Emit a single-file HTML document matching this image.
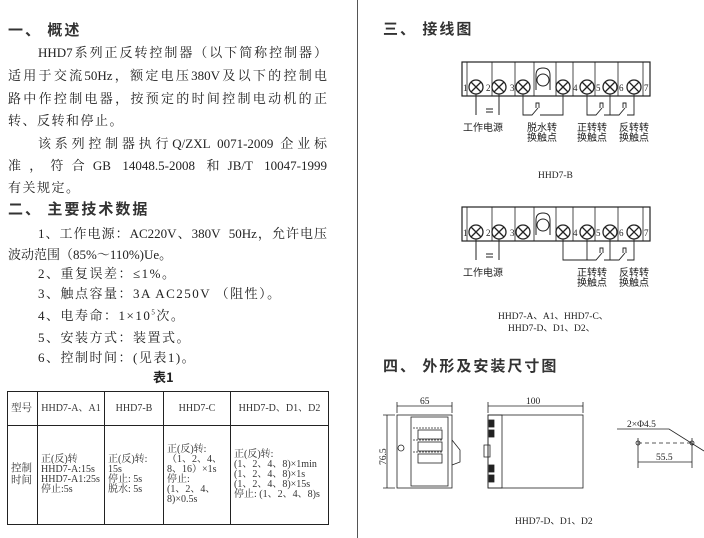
<!DOCTYPE html>
<html><head><meta charset="utf-8"><style>
body{margin:0;width:704px;height:538px;background:#fff;position:relative;overflow:hidden;font-family:"Liberation Serif","Noto Serif CJK SC","Noto Sans CJK SC",serif;color:#222}
.t{position:absolute;font-size:13px;line-height:16px;white-space:nowrap}
.j{width:319px;text-align:justify;text-align-last:justify;left:8px}
.h{position:absolute;font-size:15px;font-weight:bold;font-family:"Noto Sans CJK SC",sans-serif;letter-spacing:2px;color:#333}
table{position:absolute;left:7px;top:391px;width:321px;height:134px;border-collapse:collapse;table-layout:fixed;font-size:10px;line-height:10px}
td{border:1.5px solid #222;padding:0 3px;vertical-align:middle;color:#333;overflow:hidden;white-space:nowrap}
</style></head><body>
<div class="h" style="left:8px;top:19px">一、 概述</div>
<div class="t" style="left:38px;top:45px;width:289px;text-align:justify;text-align-last:justify">HHD7系列正反转控制器（以下简称控制器）</div>
<div class="t j" style="top:68px">适用于交流50Hz，额定电压380V及以下的控制电</div>
<div class="t j" style="top:91px">路中作控制电器，按预定的时间控制电动机的正</div>
<div class="t" style="left:8px;top:113px;letter-spacing:1.5px">转、反转和停止。</div>
<div class="t" style="left:38px;top:136px;width:289px;text-align:justify;text-align-last:justify">该系列控制器执行Q/ZXL 0071-2009 企业标</div>
<div class="t j" style="top:158px">准，符合GB 14048.5-2008 和JB/T 10047-1999</div>
<div class="t" style="left:8px;top:180px;letter-spacing:1.5px">有关规定。</div>
<div class="h" style="left:8px;top:198px">二、 主要技术数据</div>
<div class="t" style="left:38px;top:226px;width:289px;text-align:justify;text-align-last:justify">1、工作电源：AC220V、380V &nbsp;50Hz，允许电压</div>
<div class="t" style="left:8px;top:247px">波动范围（85%～110%)Ue。</div>
<div class="t" style="left:38px;top:266px;letter-spacing:1.5px">2、重复误差：≤1%。</div>
<div class="t" style="left:38px;top:286px;letter-spacing:1.5px">3、触点容量：3A AC250V （阻性）。</div>
<div class="t" style="left:38px;top:308px;letter-spacing:1.5px">4、电寿命：1×10<sup style="font-size:7px;line-height:0">5</sup>次。</div>
<div class="t" style="left:38px;top:330px;letter-spacing:1.5px">5、安装方式：装置式。</div>
<div class="t" style="left:38px;top:350px;letter-spacing:1.5px">6、控制时间：(见表1)。</div>
<div class="t" style="left:153px;top:369px;font-weight:bold;font-family:'Noto Sans CJK SC',sans-serif">表1</div>
<table><colgroup><col style="width:30px"><col style="width:67px"><col style="width:59px"><col style="width:67px"><col style="width:98px"></colgroup>
<tr style="height:34px"><td style="font-size:10.5px">型号</td><td style="text-align:center">HHD7-A、A1</td><td style="text-align:center">HHD7-B</td><td style="text-align:center">HHD7-C</td><td style="text-align:center">HHD7-D、D1、D2</td></tr>
<tr><td style="font-size:10.5px;line-height:12px">控制<br>时间</td><td>正(反)转<br>HHD7-A:15s<br>HHD7-A1:25s<br>停止:5s</td><td>正(反)转:<br>15s<br>停止: 5s<br>脱水: 5s</td><td>正(反)转:<br>（1、2、4、<br>8、16）×1s<br>停止:<br>(1、2、4、<br>8)×0.5s</td><td>正(反)转:<br>(1、2、4、8)×1min<br>(1、2、4、8)×1s<br>(1、2、4、8)×15s<br>停止: (1、2、4、8)s</td></tr></table>
<div style="position:absolute;left:357px;top:0;width:1px;height:538px;background:#555"></div>
<div class="h" style="left:383px;top:18px">三、 接线图</div>
<div class="h" style="left:383px;top:355px">四、 外形及安装尺寸图</div>
<svg width="704" height="538" style="position:absolute;left:0;top:0" font-family="Liberation Serif,Noto Sans CJK SC,serif" fill="none" stroke="#222">
<defs><g id="sc"><circle r="7" stroke-width="1.3"/><path d="M-5,-5L5,5M-5,5L5,-5" stroke-width="1.3"/></g>
<g id="blk"><rect x="462" y="62" width="188" height="34" stroke-width="1.2"/>
<path d="M467,62V96M492,62V96M515,62V96M534,62V96M556,62V96M573,62V96M595,62V96M618,62V96M643,62V96" stroke-width="0.8"/>
<circle cx="543" cy="80" r="6"/><path d="M536,90V75Q536,68 543,68Q550,68 550,75V90"/>
<use href="#sc" x="476" y="87"/><use href="#sc" x="499" y="87"/><use href="#sc" x="523" y="87"/><use href="#sc" x="563" y="87"/><use href="#sc" x="587" y="87"/><use href="#sc" x="610" y="87"/><use href="#sc" x="634" y="87"/>
<g fill="#222" stroke="none" font-size="9"><text x="463" y="91">1</text><text x="486" y="91">2</text><text x="510" y="91">3</text><text x="573" y="91">4</text><text x="596" y="91">5</text><text x="619" y="91">6</text><text x="644" y="91">7</text></g>
<path d="M476,94V115M499,94V115M486,109h7M486,112h7"/>
<path d="M587,94V115H596l6,-7M604,115H610M610,94V115H619l6,-7M627,115H634V94M600,108v-5h3v5M623,108v-5h3v5" stroke-width="0.9"/>
<g fill="#222" stroke="none" font-size="10"><text x="463" y="131">工作电源</text><text x="577" y="131">正转转</text><text x="577" y="141">换触点</text><text x="619" y="131">反转转</text><text x="619" y="141">换触点</text></g></g></defs>
<use href="#blk"/>
<path d="M523,94V115H532l6,-7M540,115H563V94M536,108v-5h3v5" stroke-width="0.9"/>
<g fill="#222" stroke="none" font-size="10"><text x="527" y="131">脱水转</text><text x="527" y="141">换触点</text><text x="538" y="178" font-size="9.5">HHD7-B</text>
<text x="498" y="319" font-size="9.5">HHD7-A、A1、HHD7-C、</text><text x="508" y="331" font-size="9.5">HHD7-D、D1、D2、</text>
<text x="515" y="524" font-size="9.5">HHD7-D、D1、D2</text></g>
<use href="#blk" y="145"/>
<path d="M563,239V260H587" stroke-width="0.9"/>
<g stroke-width="0.8"><rect x="397" y="415" width="55" height="73"/><rect x="411" y="417" width="37" height="69"/>
<path d="M397,402V413M452,402V413M397,406H452M383,415H395M383,488H395M387,415V488"/>
<path d="M413,428h30M413,440h30M413,452h30" stroke-dasharray="2,1"/><rect x="418" y="430" width="24" height="9"/><rect x="418" y="442" width="24" height="9"/><rect x="418" y="454" width="24" height="9"/>
<path d="M452,440l8,10v12l-8,3"/><circle cx="401" cy="448" r="3"/>
<rect x="488" y="415" width="95" height="73"/><rect x="488" y="415" width="14" height="73"/>
<path d="M488,402V413M583,402V413M488,406H583M484,445h6v12h-6z"/>
<rect x="489" y="420" width="5" height="7" fill="#222"/><rect x="489" y="430" width="5" height="7" fill="#222"/><rect x="489" y="465" width="5" height="7" fill="#222"/><rect x="489" y="475" width="5" height="7" fill="#222"/>
<path d="M638,443H692" stroke-dasharray="4,3"/><path d="M617,429H669L704,451"/>
<circle cx="638" cy="443" r="2"/><circle cx="692" cy="443" r="2"/><path d="M638,438V468M692,438V468M638,462H692"/></g>
<g fill="#222" stroke="none" font-size="9.5"><text x="420" y="404">65</text><text x="526" y="404">100</text><text x="627" y="427">2×Φ4.5</text><text x="656" y="460">55.5</text>
<text transform="translate(386,465) rotate(-90)">76.5</text></g>
</svg>
</body></html>
